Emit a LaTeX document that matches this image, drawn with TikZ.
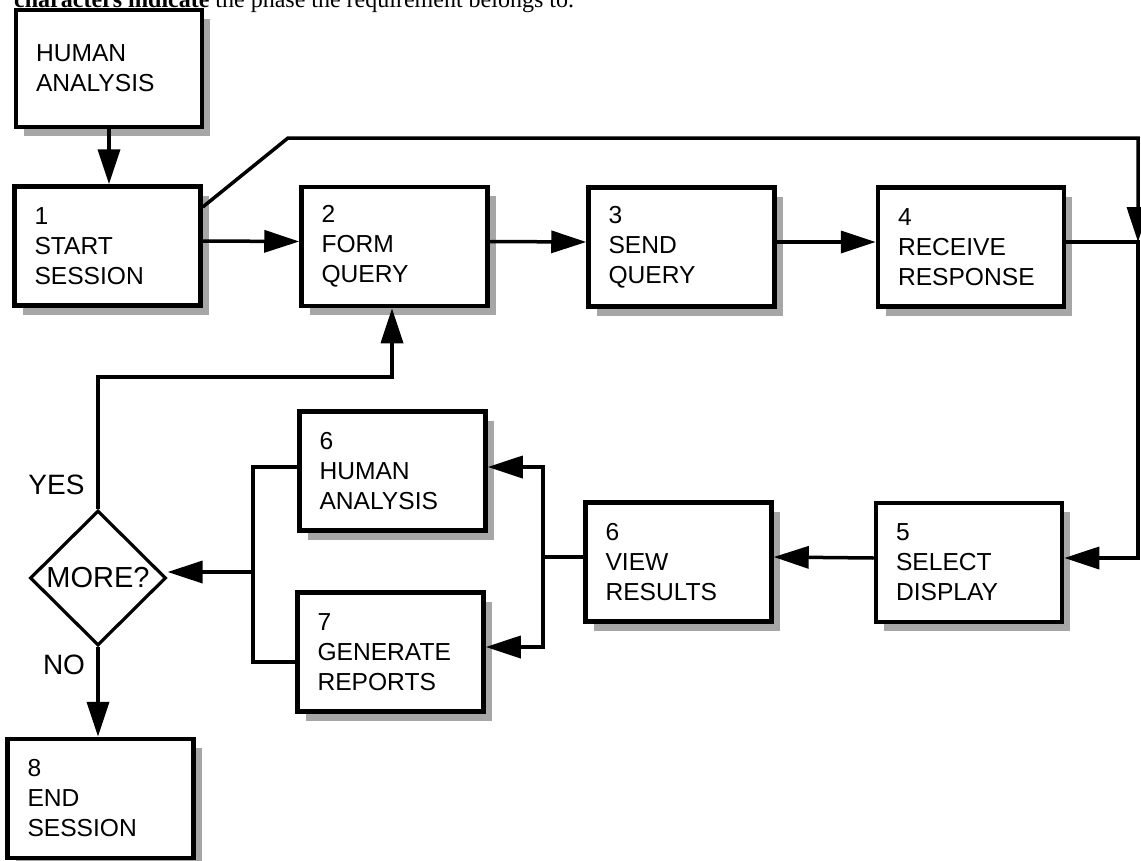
\documentclass[tikz,border=0pt]{standalone}
\usepackage{fontspec}
\setmainfont{Liberation Sans}
\newfontfamily\captionserif{Liberation Serif}
\usetikzlibrary{arrows.meta,shapes.geometric,shadows}

\tikzset{
  stepbox/.style={
    draw=black, line width=4.5pt, fill=white, rectangle,
    minimum width=186pt, minimum height=119pt,
    inner xsep=20pt, inner ysep=0pt,
    text width=146pt, align=left,
    font=\fontsize{24.6}{30}\selectfont,
    drop shadow={shadow xshift=8pt, shadow yshift=-9pt, fill=black!35, opacity=1}
  },
  decision/.style={
    draw=black, line width=3.2pt, fill=white, diamond, aspect=1,
    minimum width=136pt, minimum height=135pt, inner sep=0pt,
    font=\fontsize{29}{34}\selectfont
  },
  answer/.style={font=\fontsize{28}{32}\selectfont, inner sep=0pt},
  link/.style={draw=black, line width=3.5pt},
  flow/.style={link, -{Triangle[length=35pt,width=22pt]}}
}

\begin{document}
\begin{tikzpicture}[x=1pt,y=-1pt]
\useasboundingbox (0,0) rectangle (1141,860);
\clip (0,0) rectangle (1141,860);

% caption line, cut by the top edge of the page
\node[anchor=base west, inner sep=0pt, font=\captionserif\fontsize{24}{28}\selectfont]
  (caption) at (14,7) {\textbf{characters indicate} the phase the requirement belongs to.};

% process boxes
\node[stepbox, minimum height=117pt] (ha0) at (109,68.5) {HUMAN\\ANALYSIS};
\node[stepbox] (b1) at (107.5,246) {1\\START\\SESSION};
\node[stepbox] (b2) at (394.5,246.5) {2\\FORM\\QUERY};
\node[stepbox] (b3) at (681.5,247) {3\\SEND\\QUERY};
\node[stepbox] (b4) at (971,247) {4\\RECEIVE\\RESPONSE};
\node[stepbox] (b5) at (969,562.5) {5\\SELECT\\DISPLAY};
\node[stepbox] (b6v) at (678.5,562) {6\\VIEW\\RESULTS};
\node[stepbox] (b6h) at (392.5,471) {6\\HUMAN\\ANALYSIS};
\node[stepbox] (b7) at (390.5,652) {7\\GENERATE\\REPORTS};
\node[stepbox] (b8) at (100.5,798.5) {8\\END\\SESSION};

% decision
\node[decision] (d) at (98,578) {MORE?};
\node[answer] (yes) at (56.5,485) {YES};
\node[answer] (no) at (64,665) {NO};

% routing points
\coordinate (c1) at (288,138);
\coordinate (c2) at (1138,138);
\coordinate (jT) at (1138,242);
\coordinate (c3) at (1138,558);
\coordinate (jR) at (543,557);
\coordinate (jL) at (253,572);
\coordinate (yc) at (392,377);

% top row
\draw[flow] (ha0.south) -- (ha0.south |- b1.north);
\draw[flow] ([yshift=5pt]b1.east) -- ([yshift=5pt]b2.west);
\draw[flow] ([yshift=5pt]b2.east) -- ([yshift=5pt]b3.west);
\draw[flow] ([yshift=5pt]b3.east) -- ([yshift=5pt]b4.west);
\draw[flow, line join=miter] ([yshift=39pt]b1.east) -- (c1) -- (c2) -- (jT);
\draw[flow, line join=miter] ([yshift=5pt]b4.east) -- (jT) -- (c3) -- ([yshift=4.5pt]b5.east);

% bottom row
\draw[flow] ([yshift=4.5pt]b5.west) -- ([yshift=5pt]b6v.east);
\draw[link] ([yshift=5pt]b6v.west) -- (jR);
\draw[flow, line join=miter] (jR) |- ([yshift=4pt]b6h.east);
\draw[flow, line join=miter] (jR) |- ([yshift=5pt]b7.east);
\draw[link, line join=miter] ([yshift=4pt]b6h.west) -| (jL) |- ([yshift=-10pt]b7.west);
\draw[flow] (jL) -- (jL -| d.east);

% decision outcomes
\draw[flow, line join=miter] (d.north) |- (yc) -- (yc |- b2.south);
\draw[flow] (d.south) -- (d.south |- b8.north);
\end{tikzpicture}
\end{document}
